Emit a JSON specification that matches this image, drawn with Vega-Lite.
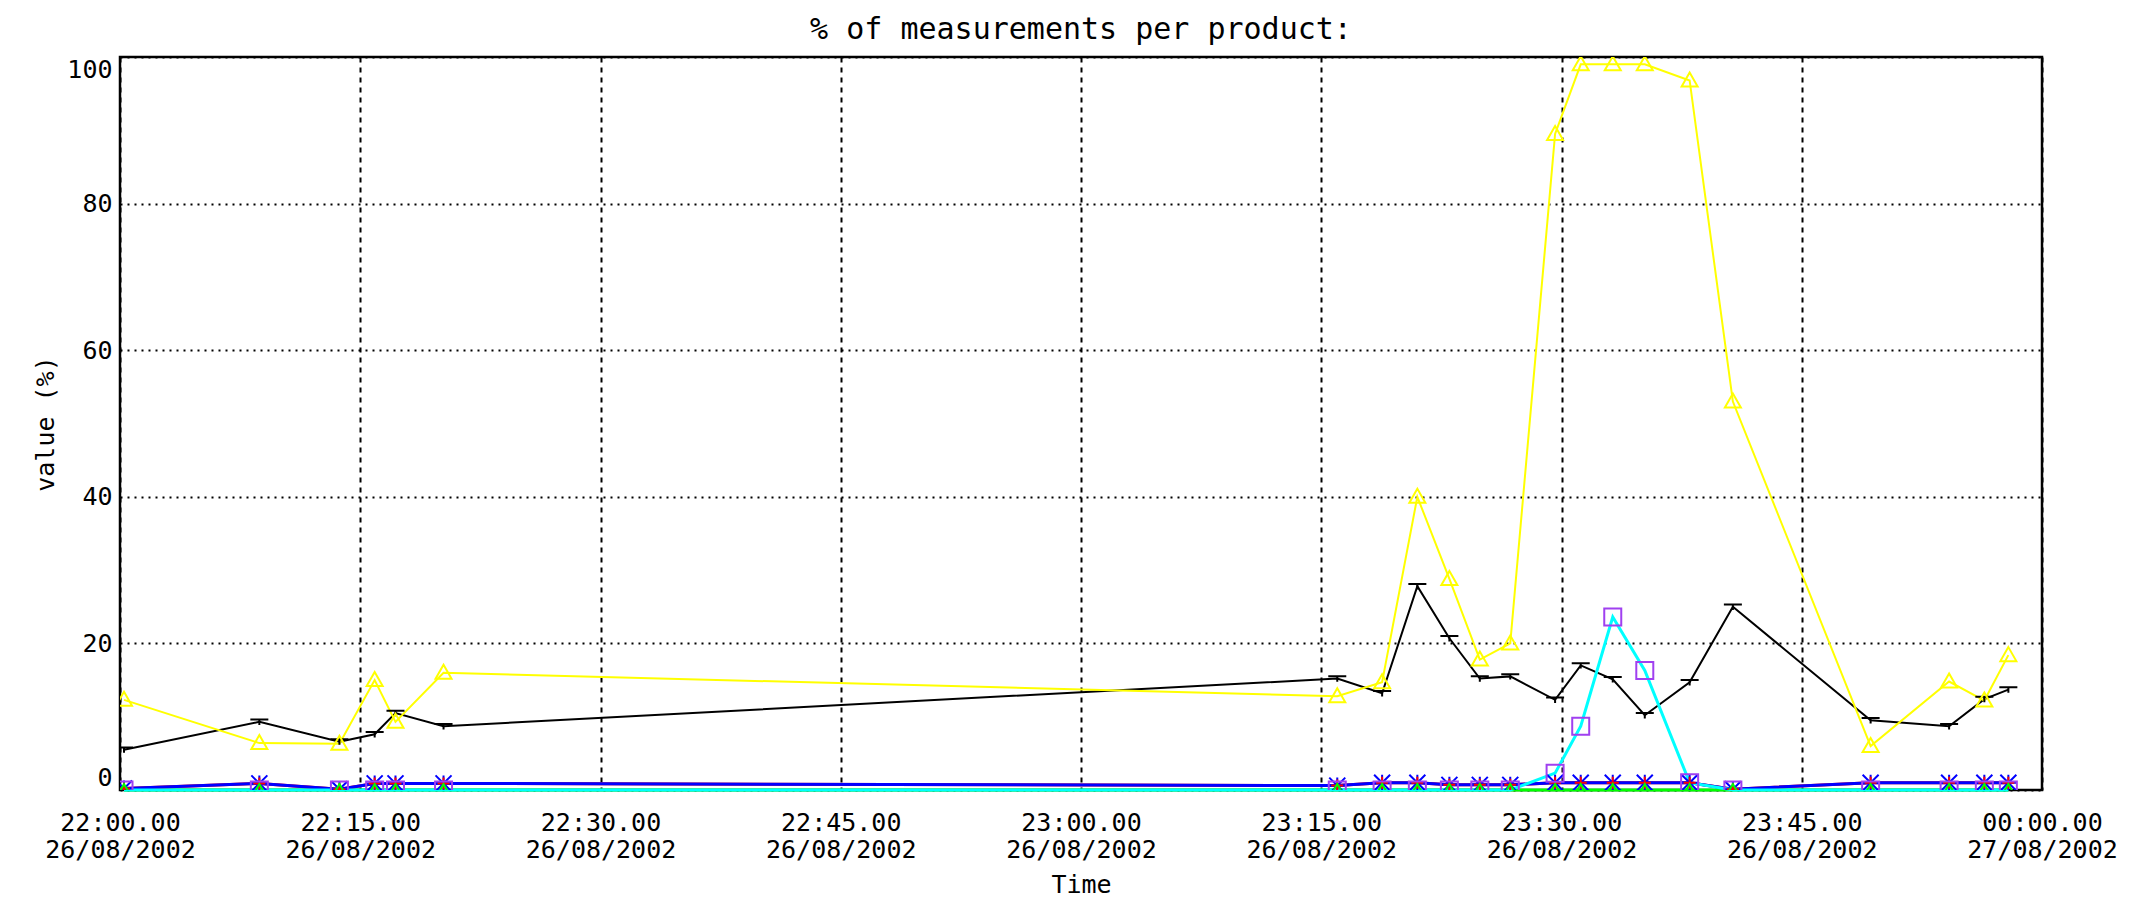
{
  "$schema": "https://vega.github.io/schema/vega-lite/v6.json",
  "width": 1922,
  "height": 733,
  "autosize": "none",
  "padding": {"left": 120, "top": 57, "right": 97, "bottom": 112},
  "background": "white",
  "config": {"view": {"stroke": "black", "strokeWidth": 2.5}, "font": "DejaVu Sans Mono"},
  "title": {"text": "% of measurements per product:", "font": "DejaVu Sans Mono", "fontSize": 30, "fontWeight": "normal", "color": "black", "anchor": "middle", "baseline": "bottom", "offset": 16, "dy": 34},
  "data": {"values": [
    {"time": "2002-08-26T22:00:15Z", "product": "A", "value": 12.3},
    {"time": "2002-08-26T22:08:42Z", "product": "A", "value": 6.4},
    {"time": "2002-08-26T22:13:42Z", "product": "A", "value": 6.3},
    {"time": "2002-08-26T22:15:54Z", "product": "A", "value": 15.0},
    {"time": "2002-08-26T22:17:12Z", "product": "A", "value": 9.3},
    {"time": "2002-08-26T22:20:12Z", "product": "A", "value": 16.0},
    {"time": "2002-08-26T23:16:00Z", "product": "A", "value": 12.8},
    {"time": "2002-08-26T23:18:48Z", "product": "A", "value": 14.7},
    {"time": "2002-08-26T23:21:00Z", "product": "A", "value": 40.0},
    {"time": "2002-08-26T23:23:00Z", "product": "A", "value": 28.8},
    {"time": "2002-08-26T23:24:54Z", "product": "A", "value": 17.8},
    {"time": "2002-08-26T23:26:48Z", "product": "A", "value": 20.0},
    {"time": "2002-08-26T23:29:36Z", "product": "A", "value": 89.5},
    {"time": "2002-08-26T23:31:12Z", "product": "A", "value": 99.0},
    {"time": "2002-08-26T23:33:12Z", "product": "A", "value": 99.0},
    {"time": "2002-08-26T23:35:12Z", "product": "A", "value": 99.0},
    {"time": "2002-08-26T23:38:00Z", "product": "A", "value": 96.8},
    {"time": "2002-08-26T23:40:42Z", "product": "A", "value": 53.0},
    {"time": "2002-08-26T23:49:18Z", "product": "A", "value": 6.0},
    {"time": "2002-08-26T23:54:12Z", "product": "A", "value": 14.8},
    {"time": "2002-08-26T23:56:24Z", "product": "A", "value": 12.2},
    {"time": "2002-08-26T23:57:54Z", "product": "A", "value": 18.4},

    {"time": "2002-08-26T22:00:15Z", "product": "B", "value": 5.5},
    {"time": "2002-08-26T22:08:42Z", "product": "B", "value": 9.3},
    {"time": "2002-08-26T22:13:42Z", "product": "B", "value": 6.6},
    {"time": "2002-08-26T22:15:54Z", "product": "B", "value": 7.6},
    {"time": "2002-08-26T22:17:12Z", "product": "B", "value": 10.5},
    {"time": "2002-08-26T22:20:12Z", "product": "B", "value": 8.7},
    {"time": "2002-08-26T23:16:00Z", "product": "B", "value": 15.2},
    {"time": "2002-08-26T23:18:48Z", "product": "B", "value": 13.2},
    {"time": "2002-08-26T23:21:00Z", "product": "B", "value": 27.8},
    {"time": "2002-08-26T23:23:00Z", "product": "B", "value": 20.7},
    {"time": "2002-08-26T23:24:54Z", "product": "B", "value": 15.2},
    {"time": "2002-08-26T23:26:48Z", "product": "B", "value": 15.5},
    {"time": "2002-08-26T23:29:36Z", "product": "B", "value": 12.3},
    {"time": "2002-08-26T23:31:12Z", "product": "B", "value": 17.0},
    {"time": "2002-08-26T23:33:12Z", "product": "B", "value": 15.1},
    {"time": "2002-08-26T23:35:12Z", "product": "B", "value": 10.2},
    {"time": "2002-08-26T23:38:00Z", "product": "B", "value": 14.7},
    {"time": "2002-08-26T23:40:42Z", "product": "B", "value": 25.0},
    {"time": "2002-08-26T23:49:18Z", "product": "B", "value": 9.5},
    {"time": "2002-08-26T23:54:12Z", "product": "B", "value": 8.7},
    {"time": "2002-08-26T23:56:24Z", "product": "B", "value": 12.4},
    {"time": "2002-08-26T23:57:54Z", "product": "B", "value": 13.7},

    {"time": "2002-08-26T22:00:15Z", "product": "C", "value": 0},
    {"time": "2002-08-26T22:08:42Z", "product": "C", "value": 0},
    {"time": "2002-08-26T22:13:42Z", "product": "C", "value": 0},
    {"time": "2002-08-26T22:15:54Z", "product": "C", "value": 0},
    {"time": "2002-08-26T22:17:12Z", "product": "C", "value": 0},
    {"time": "2002-08-26T22:20:12Z", "product": "C", "value": 0},
    {"time": "2002-08-26T23:16:00Z", "product": "C", "value": 0},
    {"time": "2002-08-26T23:18:48Z", "product": "C", "value": 0},
    {"time": "2002-08-26T23:21:00Z", "product": "C", "value": 0},
    {"time": "2002-08-26T23:23:00Z", "product": "C", "value": 0},
    {"time": "2002-08-26T23:24:54Z", "product": "C", "value": 0},
    {"time": "2002-08-26T23:26:48Z", "product": "C", "value": 0},
    {"time": "2002-08-26T23:29:36Z", "product": "C", "value": 2.3},
    {"time": "2002-08-26T23:31:12Z", "product": "C", "value": 8.7},
    {"time": "2002-08-26T23:33:12Z", "product": "C", "value": 23.6},
    {"time": "2002-08-26T23:35:12Z", "product": "C", "value": 16.3},
    {"time": "2002-08-26T23:38:00Z", "product": "C", "value": 1.0},
    {"time": "2002-08-26T23:40:42Z", "product": "C", "value": 0},
    {"time": "2002-08-26T23:49:18Z", "product": "C", "value": 0},
    {"time": "2002-08-26T23:54:12Z", "product": "C", "value": 0},
    {"time": "2002-08-26T23:56:24Z", "product": "C", "value": 0},
    {"time": "2002-08-26T23:57:54Z", "product": "C", "value": 0},

    {"time": "2002-08-26T22:00:15Z", "product": "D", "value": 0.2},
    {"time": "2002-08-26T22:08:42Z", "product": "D", "value": 0.9},
    {"time": "2002-08-26T22:13:42Z", "product": "D", "value": 0.1},
    {"time": "2002-08-26T22:15:54Z", "product": "D", "value": 0.9},
    {"time": "2002-08-26T22:17:12Z", "product": "D", "value": 0.9},
    {"time": "2002-08-26T22:20:12Z", "product": "D", "value": 0.9},
    {"time": "2002-08-26T23:16:00Z", "product": "D", "value": 0.6},
    {"time": "2002-08-26T23:18:48Z", "product": "D", "value": 1.0},
    {"time": "2002-08-26T23:21:00Z", "product": "D", "value": 1.0},
    {"time": "2002-08-26T23:23:00Z", "product": "D", "value": 0.7},
    {"time": "2002-08-26T23:24:54Z", "product": "D", "value": 0.7},
    {"time": "2002-08-26T23:26:48Z", "product": "D", "value": 0.7},
    {"time": "2002-08-26T23:29:36Z", "product": "D", "value": 1.0},
    {"time": "2002-08-26T23:31:12Z", "product": "D", "value": 1.0},
    {"time": "2002-08-26T23:33:12Z", "product": "D", "value": 1.0},
    {"time": "2002-08-26T23:35:12Z", "product": "D", "value": 1.0},
    {"time": "2002-08-26T23:38:00Z", "product": "D", "value": 1.0},
    {"time": "2002-08-26T23:40:42Z", "product": "D", "value": 0.1},
    {"time": "2002-08-26T23:49:18Z", "product": "D", "value": 1.0},
    {"time": "2002-08-26T23:54:12Z", "product": "D", "value": 1.0},
    {"time": "2002-08-26T23:56:24Z", "product": "D", "value": 1.0},
    {"time": "2002-08-26T23:57:54Z", "product": "D", "value": 1.0},

    {"time": "2002-08-26T22:00:15Z", "product": "E", "value": 0.2},
    {"time": "2002-08-26T22:08:42Z", "product": "E", "value": 0.9},
    {"time": "2002-08-26T22:13:42Z", "product": "E", "value": 0.1},
    {"time": "2002-08-26T22:15:54Z", "product": "E", "value": 0.9},
    {"time": "2002-08-26T22:17:12Z", "product": "E", "value": 0.9},
    {"time": "2002-08-26T22:20:12Z", "product": "E", "value": 0.9},
    {"time": "2002-08-26T23:16:00Z", "product": "E", "value": 0.6},
    {"time": "2002-08-26T23:18:48Z", "product": "E", "value": 1.0},
    {"time": "2002-08-26T23:21:00Z", "product": "E", "value": 1.0},
    {"time": "2002-08-26T23:23:00Z", "product": "E", "value": 0.7},
    {"time": "2002-08-26T23:24:54Z", "product": "E", "value": 0.7},
    {"time": "2002-08-26T23:26:48Z", "product": "E", "value": 0.7},
    {"time": "2002-08-26T23:29:36Z", "product": "E", "value": 1.0},
    {"time": "2002-08-26T23:31:12Z", "product": "E", "value": 1.0},
    {"time": "2002-08-26T23:33:12Z", "product": "E", "value": 1.0},
    {"time": "2002-08-26T23:35:12Z", "product": "E", "value": 1.0},
    {"time": "2002-08-26T23:38:00Z", "product": "E", "value": 1.0},
    {"time": "2002-08-26T23:40:42Z", "product": "E", "value": 0.1},
    {"time": "2002-08-26T23:49:18Z", "product": "E", "value": 1.0},
    {"time": "2002-08-26T23:54:12Z", "product": "E", "value": 1.0},
    {"time": "2002-08-26T23:56:24Z", "product": "E", "value": 1.0},
    {"time": "2002-08-26T23:57:54Z", "product": "E", "value": 1.0},

    {"time": "2002-08-26T22:00:15Z", "product": "F", "value": 0},
    {"time": "2002-08-26T22:08:42Z", "product": "F", "value": 0},
    {"time": "2002-08-26T22:13:42Z", "product": "F", "value": 0},
    {"time": "2002-08-26T22:15:54Z", "product": "F", "value": 0},
    {"time": "2002-08-26T22:17:12Z", "product": "F", "value": 0},
    {"time": "2002-08-26T22:20:12Z", "product": "F", "value": 0},
    {"time": "2002-08-26T23:16:00Z", "product": "F", "value": 0},
    {"time": "2002-08-26T23:18:48Z", "product": "F", "value": 0},
    {"time": "2002-08-26T23:21:00Z", "product": "F", "value": 0},
    {"time": "2002-08-26T23:23:00Z", "product": "F", "value": 0},
    {"time": "2002-08-26T23:24:54Z", "product": "F", "value": 0},
    {"time": "2002-08-26T23:26:48Z", "product": "F", "value": 0},
    {"time": "2002-08-26T23:29:36Z", "product": "F", "value": 0},
    {"time": "2002-08-26T23:31:12Z", "product": "F", "value": 0},
    {"time": "2002-08-26T23:33:12Z", "product": "F", "value": 0},
    {"time": "2002-08-26T23:35:12Z", "product": "F", "value": 0},
    {"time": "2002-08-26T23:38:00Z", "product": "F", "value": 0},
    {"time": "2002-08-26T23:40:42Z", "product": "F", "value": 0},
    {"time": "2002-08-26T23:49:18Z", "product": "F", "value": 0},
    {"time": "2002-08-26T23:54:12Z", "product": "F", "value": 0},
    {"time": "2002-08-26T23:56:24Z", "product": "F", "value": 0},
    {"time": "2002-08-26T23:57:54Z", "product": "F", "value": 0}
  ]},
  "encoding": {
    "x": {
      "field": "time", "type": "temporal",
      "scale": {"type": "utc", "domain": [1030399200000, 1030406400000], "nice": false},
      "axis": {
        "values": [1030399200000, 1030400100000, 1030401000000, 1030401900000, 1030402800000, 1030403700000, 1030404600000, 1030405500000, 1030406400000],
        "labelExpr": "[utcFormat(datum.value, '%H:%M.%S'), utcFormat(datum.value, '%d/%m/%Y')]",
        "labelFlush": false, "labelOverlap": false, "labelBound": false,
        "labelAlign": "center", "labelAngle": 0,
        "labelFont": "DejaVu Sans Mono", "labelFontSize": 25, "labelColor": "black",
        "labelPadding": 20, "labelLineHeight": 27,
        "ticks": false, "domain": false,
        "grid": true, "gridColor": "black", "gridWidth": 2, "gridDash": [5, 5], "gridOpacity": 1,
        "title": "Time", "titleFont": "DejaVu Sans Mono", "titleFontSize": 25, "titleFontWeight": "normal", "titleColor": "black",
        "titleY": 94, "titleBaseline": "middle"
      }
    },
    "y": {
      "field": "value", "type": "quantitative",
      "scale": {"domain": [0, 100], "nice": false, "zero": true},
      "axis": {
        "values": [0, 20, 40, 60, 80, 100],
        "labelFlush": true,
        "labelFont": "DejaVu Sans Mono", "labelFontSize": 25, "labelColor": "black", "labelPadding": 8,
        "ticks": false, "domain": false,
        "grid": true, "gridColor": "black", "gridWidth": 2, "gridDash": [2, 5], "gridOpacity": 1,
        "title": "value (%)", "titleFont": "DejaVu Sans Mono", "titleFontSize": 25, "titleFontWeight": "normal", "titleColor": "black",
        "titleX": -75, "titleBaseline": "middle"
      }
    }
  },
  "layer": [
    {"transform": [{"filter": "datum.product === 'F'"}], "mark": {"type": "line", "color": "#00ff00", "strokeWidth": 3}},
    {"transform": [{"filter": "datum.product === 'E'"}], "mark": {"type": "line", "color": "#ff0000", "strokeWidth": 3}},
    {"transform": [{"filter": "datum.product === 'D'"}], "mark": {"type": "line", "color": "#0000ff", "strokeWidth": 3}},
    {"transform": [{"filter": "datum.product === 'B'"}], "mark": {"type": "line", "color": "#000000", "strokeWidth": 2}},
    {"transform": [{"filter": "datum.product === 'A'"}], "mark": {"type": "line", "color": "#ffff00", "strokeWidth": 2}},
    {"transform": [{"filter": "datum.product === 'C'"}], "mark": {"type": "line", "color": "#00ffff", "strokeWidth": 3}},
    {"transform": [{"filter": "datum.product === 'B'"}], "mark": {"type": "point", "clip": true, "shape": "M-1,-0.25L1,-0.25M0,-0.25L0,0.35", "filled": false, "color": "#000000", "size": 324, "strokeWidth": 2, "opacity": 1}},
    {"transform": [{"filter": "datum.product === 'A'"}], "mark": {"type": "point", "clip": true, "shape": "M0,-1L1,0.75L-1,0.75Z", "filled": false, "color": "#ffff00", "size": 256, "strokeWidth": 2, "opacity": 1}},
    {"transform": [{"filter": "datum.product === 'D'"}], "mark": {"type": "point", "clip": true, "shape": "M-1,-1L1,1M-1,1L1,-1M-1,0L1,0M0,-1L0,1", "filled": false, "color": "#0000ff", "size": 256, "strokeWidth": 2, "opacity": 1}},
    {"transform": [{"filter": "datum.product === 'E'"}], "mark": {"type": "point", "clip": true, "shape": "M0,-1L0,1M-1,0L1,0", "filled": false, "color": "#ff0000", "size": 144, "strokeWidth": 2, "opacity": 1}},
    {"transform": [{"filter": "datum.product === 'F'"}], "mark": {"type": "point", "clip": true, "shape": "M0,-1L1,0.75L-1,0.75Z", "filled": false, "color": "#00ff00", "size": 144, "strokeWidth": 2, "opacity": 1}},
    {"transform": [{"filter": "datum.product === 'C'"}], "mark": {"type": "point", "clip": true, "shape": "square", "filled": false, "color": "#a040f0", "size": 289, "strokeWidth": 2, "opacity": 1}}
  ]
}
